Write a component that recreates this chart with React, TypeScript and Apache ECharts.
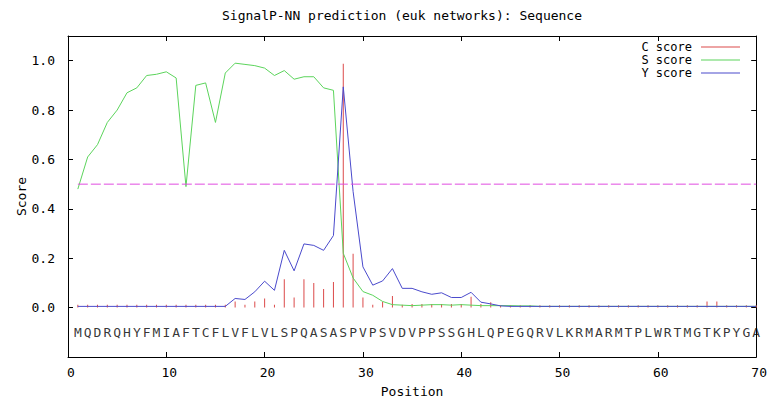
import React, { useEffect, useRef } from "react";
import * as echarts from "echarts";

const TITLE = "SignalP-NN prediction (euk networks): Sequence";
const SEQUENCE = "MQDRQHYFMIAFTCFLVFLVLSPQASASPVPSVDVPPSSGHLQPEGQRVLKRMARMTPLWRTMGTKPYGA";
const residues = SEQUENCE.split("");

// C score (impulses), positions 1..70
const cScore = [
  0.012, 0.012, 0.012, 0.012, 0.012, 0.012, 0.012, 0.012, 0.012, 0.012,
  0.012, 0.012, 0.012, 0.012, 0.012, 0.012, 0.025, 0.012, 0.025, 0.037,
  0.012, 0.115, 0.041, 0.115, 0.1, 0.075, 0.104, 0.988, 0.218, 0.041,
  0.012, 0.024, 0.047, 0.012, 0.015, 0.015, 0.015, 0.015, 0.015, 0.015,
  0.044, 0.015, 0.022, 0.01, 0.01, 0.01, 0.01, 0.01, 0.01, 0.01,
  0.01, 0.01, 0.01, 0.01, 0.01, 0.01, 0.01, 0.01, 0.01, 0.01,
  0.01, 0.01, 0.01, 0.01, 0.025, 0.025, 0.01, 0.01, 0.01, 0.01,
];

// S score (line)
const sScore = [
  0.48, 0.61, 0.66, 0.75, 0.8, 0.87, 0.89, 0.94, 0.945, 0.955,
  0.93, 0.49, 0.9, 0.91, 0.75, 0.95, 0.99, 0.985, 0.98, 0.97,
  0.94, 0.96, 0.925, 0.935, 0.935, 0.89, 0.88, 0.22, 0.12, 0.065,
  0.05, 0.025, 0.012, 0.01, 0.008, 0.01, 0.012, 0.012, 0.01, 0.012,
  0.01, 0.008, 0.008, 0.008, 0.008, 0.007, 0.007, 0.005, 0.005, 0.005,
  0.005, 0.005, 0.005, 0.005, 0.005, 0.005, 0.005, 0.005, 0.005, 0.005,
  0.005, 0.005, 0.005, 0.005, 0.005, 0.005, 0.005, 0.005, 0.005, 0.005,
];

// Y score (line)
const yScore = [
  0.005, 0.005, 0.005, 0.005, 0.005, 0.005, 0.005, 0.005, 0.005, 0.005,
  0.005, 0.005, 0.005, 0.005, 0.005, 0.005, 0.037, 0.033, 0.064, 0.107,
  0.07, 0.232, 0.149, 0.258, 0.252, 0.232, 0.292, 0.894, 0.47, 0.165,
  0.091, 0.108, 0.158, 0.078, 0.078, 0.064, 0.054, 0.06, 0.041, 0.041,
  0.062, 0.022, 0.015, 0.007, 0.005, 0.005, 0.005, 0.005, 0.005, 0.005,
  0.005, 0.005, 0.005, 0.005, 0.005, 0.005, 0.005, 0.005, 0.005, 0.005,
  0.005, 0.005, 0.005, 0.005, 0.005, 0.005, 0.005, 0.005, 0.005, 0.005,
];

const THRESHOLD = 0.5;
const SEQ_Y = -0.1;
const X_MIN = 0;
const X_MAX = 70;
const X_STEP = 10;
const Y_MIN = -0.2;
const Y_MAX = 1.1;
const Y_STEP = 0.2;

const FONT = "DejaVu Sans Mono";
const RED = "#dc4a4a";
const GREEN = "#5cd45c";
const BLUE = "#4a4acc";
const MAGENTA = "#e04ce0";

export default function App() {
  const ref = useRef<HTMLDivElement>(null);

  useEffect(() => {
    if (!ref.current) return;
    const chart = echarts.init(ref.current, undefined, { renderer: "svg" });
    const txt = { fontFamily: FONT, fontSize: 13, color: "#000" };
    const axisCommon = {
      type: "value" as const,
      axisLine: { show: true, onZero: false, lineStyle: { color: "#000", width: 1 } },
      axisTick: { show: true, inside: true, length: 5, lineStyle: { color: "#000", width: 1 } },
      splitLine: { show: false },
    };
    chart.setOption({
      animation: false,
      backgroundColor: "#fff",
      title: {
        text: TITLE,
        left: 222,
        top: 9,
        padding: 0,
        textStyle: { ...txt, fontWeight: "normal" },
      },
      legend: {
        orient: "vertical",
        right: 30,
        top: 40.5,
        padding: 0,
        align: "right",
        itemWidth: 39,
        itemHeight: 1,
        itemGap: 0,
        textStyle: { ...txt, fontSize: 12, lineHeight: 13, padding: [0, 4, 0, 0] },
        data: [
          { name: "C score", icon: "rect", itemStyle: { color: RED } },
          { name: "S score", icon: "rect", itemStyle: { color: GREEN } },
          { name: "Y score", icon: "rect", itemStyle: { color: BLUE } },
        ],
      },
      grid: { left: 68, right: 12, top: 36, bottom: 41, containLabel: false },
      xAxis: [
        {
          ...axisCommon,
          position: "bottom",
          min: X_MIN,
          max: X_MAX,
          interval: X_STEP,
          axisLabel: { ...txt, margin: 9, padding: [0, 0, 0, 6] },
          name: "Position",
          nameLocation: "middle",
          nameGap: 28,
          nameMoveOverlap: false,
          nameTextStyle: txt,
        },
        {
          ...axisCommon,
          position: "top",
          min: X_MIN,
          max: X_MAX,
          interval: X_STEP,
          axisLabel: { show: false },
        },
      ],
      yAxis: [
        {
          ...axisCommon,
          position: "left",
          min: Y_MIN,
          max: Y_MAX,
          interval: Y_STEP,
          axisLabel: {
            ...txt,
            margin: 13,
            showMinLabel: false,
            showMaxLabel: false,
            formatter: (v: number) => (Math.abs(v) < 1e-9 ? 0 : v).toFixed(1),
          },
          name: "Score",
          nameLocation: "middle",
          nameGap: 40,
          nameMoveOverlap: false,
          nameTextStyle: txt,
        },
        {
          ...axisCommon,
          position: "right",
          min: Y_MIN,
          max: Y_MAX,
          interval: Y_STEP,
          axisLabel: { show: false },
        },
      ],
      series: [
        {
          name: "C score",
          type: "bar",
          data: cScore.map((v, i) => [i + 1, v]),
          barWidth: 1,
          itemStyle: { color: RED },
          silent: true,
          z: 2,
        },
        {
          name: "S score",
          type: "line",
          data: sScore.map((v, i) => [i + 1, v]),
          symbol: "none",
          lineStyle: { color: GREEN, width: 1 },
          itemStyle: { color: GREEN },
          z: 3,
        },
        {
          name: "Y score",
          type: "line",
          data: yScore.map((v, i) => [i + 1, v]),
          symbol: "none",
          lineStyle: { color: BLUE, width: 1 },
          itemStyle: { color: BLUE },
          z: 4,
        },
        {
          name: "threshold",
          type: "line",
          data: [
            [1, THRESHOLD],
            [residues.length, THRESHOLD],
          ],
          symbol: "none",
          lineStyle: { color: MAGENTA, width: 1, type: [10, 3] },
          itemStyle: { color: MAGENTA },
          silent: true,
          z: 5,
        },
        {
          name: "sequence",
          type: "scatter",
          data: residues.map((r, i) => [i + 1, SEQ_Y, r]),
          symbolSize: 1,
          itemStyle: { color: "rgba(0,0,0,0)" },
          silent: true,
          label: {
            show: true,
            position: "inside",
            formatter: (p: any) => p.data[2],
            ...txt,
          },
          z: 6,
        },
      ],
    });
    return () => chart.dispose();
  }, []);

  return (
    <div
      ref={ref}
      style={{ position: "fixed", left: 0, top: 0, width: 770, height: 403, background: "#fff" }}
    />
  );
}
